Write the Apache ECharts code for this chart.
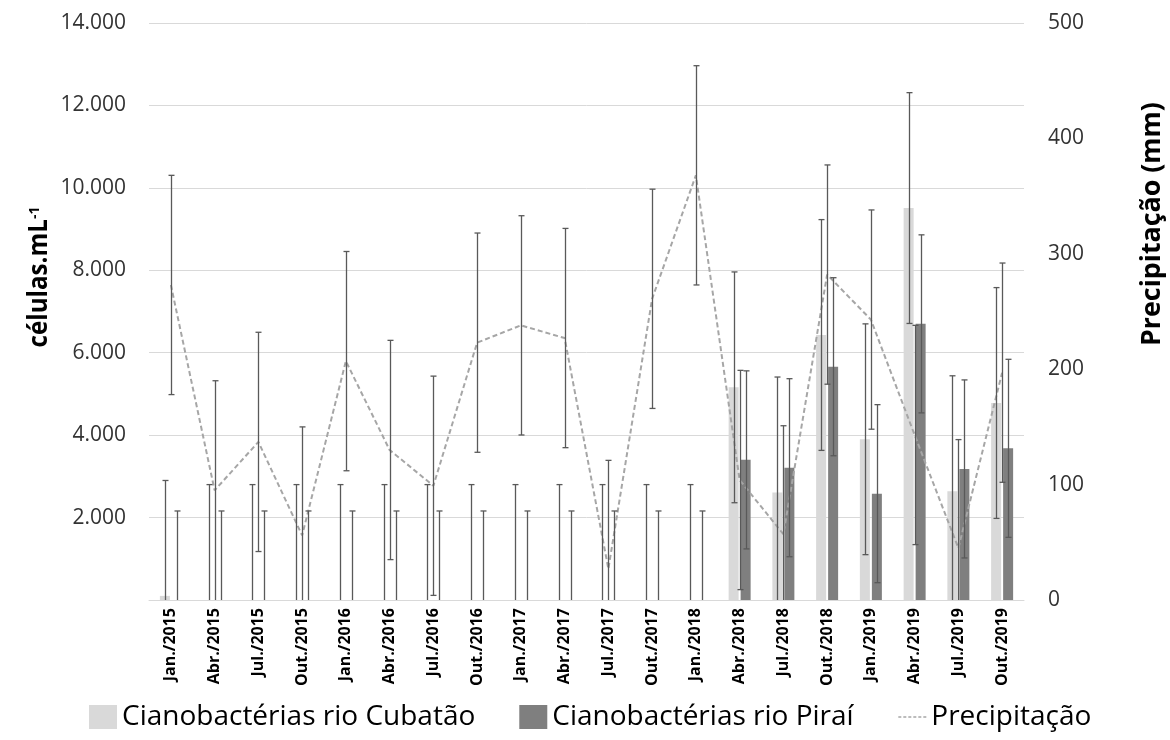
<!DOCTYPE html>
<html><head><meta charset="utf-8">
<script src="https://cdn.jsdelivr.net/npm/echarts@6/dist/echarts.min.js"></script>
<style>html,body{margin:0;padding:0;background:#fff}#c{width:1170px;height:740px}</style>
</head><body><div id="c"></div>
<script>
const categories = ['Jan./2015','Abr./2015','Jul./2015','Out./2015','Jan./2016','Abr./2016','Jul./2016','Out./2016','Jan./2017','Abr./2017','Jul./2017','Out./2017','Jan./2018','Abr./2018','Jul./2018','Out./2018','Jan./2019','Abr./2019','Jul./2019','Out./2019'];
const cubatao    = [100,0,0,0,0,0,0,0,0,0,0,0,0,5160,2610,6430,3900,9510,2640,4780];
const cubataoErr = [2800,2800,2800,2800,2800,2800,2800,2800,2800,2800,2800,2800,2800,2800,2800,2800,2800,2800,2800,2800];
const pirai      = [0,0,0,0,0,0,0,0,0,0,0,0,0,3400,3210,5660,2580,6700,3180,3680];
const piraiErr   = [2160,2160,2160,2160,2160,2160,2160,2160,2160,2160,2160,2160,2160,2160,2160,2160,2160,2160,2160,2160];
const precip     = [273,95,137,56,207,130,99,223,238,227,27,261,368,104,57,282,243,143,45,197];
const precipErr  = [95,95,95,94,95,95,95,95,95,95,94,95,95,95,94,95,95,95,94,95];
const leftAxis = {min:0, max:14000, interval:2000};
const rightAxis = {min:0, max:500, interval:100};

function fmtThousands(v){ return v === 0 ? '' : String(v).replace(/\B(?=(\d{3})+(?!\d))/g,'.'); }

function errSeries(name, values, errs, offset, yAxisIndex){
  return {
    type:'custom', name:name, yAxisIndex:yAxisIndex, silent:true, z:6, clip:true,
    data: values.map((v,i)=>[i, v, errs[i]]),
    encode:{x:0, y:1},
    renderItem:function(params, api){
      const i = api.value(0), v = api.value(1), e = api.value(2);
      const hi = api.coord([i, v + e]);
      const lo = api.coord([i, Math.max(0, v - e)]);
      const x = Math.round(hi[0] + offset) + 0.5;
      const st = {stroke:'#595959', lineWidth:1.3};
      const cap = 3;
      const ch = [
        {type:'line', shape:{x1:x, y1:hi[1], x2:x, y2:lo[1]}, style:st},
        {type:'line', shape:{x1:x-cap, y1:hi[1], x2:x+cap, y2:hi[1]}, style:st}
      ];
      if (v - e > 0) ch.push({type:'line', shape:{x1:x-cap, y1:lo[1], x2:x+cap, y2:lo[1]}, style:st});
      return {type:'group', children:ch};
    }
  };
}

const chart = echarts.init(document.getElementById('c'), null, {renderer:'canvas'});
chart.setOption({
  animation:false,
  backgroundColor:'#fff',
  textStyle:{fontFamily:'Open Sans'},
  grid:{left:149, top:23, width:875, height:577},
  legend:{
    left:89, top:703, padding:0, itemWidth:28, itemHeight:24, itemGap:44,
    textStyle:{fontFamily:'Open Sans', fontSize:28, color:'#000'},
    data:[
      {name:'Cianobactérias rio Cubatão', icon:'rect'},
      {name:'Cianobactérias rio Piraí', icon:'rect'},
      {name:'Precipitação', itemStyle:{opacity:0}, lineStyle:{color:'#a6a6a6', width:1.3, type:[3,2]}}
    ]
  },
  xAxis:{
    type:'category', data:categories, boundaryGap:true,
    axisTick:{show:false},
    axisLine:{lineStyle:{color:'#d9d9d9', width:1}},
    axisLabel:{rotate:90, interval:0, fontWeight:'bold', fontSize:16, color:'#000', margin:8, padding:[0,0,10,0]}
  },
  yAxis:[
    {type:'value', min:leftAxis.min, max:leftAxis.max, interval:leftAxis.interval,
     axisLine:{show:false}, axisTick:{show:false},
     splitLine:{lineStyle:{color:'#d9d9d9', width:1}},
     axisLabel:{formatter:fmtThousands, fontSize:21, color:'#333', margin:23}},
    {type:'value', min:rightAxis.min, max:rightAxis.max, interval:rightAxis.interval,
     axisLine:{show:false}, axisTick:{show:false}, splitLine:{show:false},
     axisLabel:{fontSize:21, color:'#333', margin:24}}
  ],
  graphic:[
    {type:'text', x:40, y:277, rotation:Math.PI/2, scaleX:0.93,
     style:{text:'{a|células.mL}{s|-1}', align:'center', verticalAlign:'middle',
       rich:{a:{fontFamily:'Open Sans', fontWeight:'bold', fontSize:26, fill:'#000'},
             s:{fontFamily:'Open Sans', fontWeight:'bold', fontSize:15, fill:'#000', verticalAlign:'top'}}}},
    {type:'text', x:1153, y:224, rotation:Math.PI/2, scaleX:1.03,
     style:{text:'Precipitação (mm)', align:'center', verticalAlign:'middle',
       fontFamily:'Open Sans', fontWeight:'bold', fontSize:26, fill:'#000'}}
  ],
  series:[
    {name:'Cianobactérias rio Cubatão', type:'bar', data:cubatao, barWidth:10, barGap:'20%', itemStyle:{color:'#d9d9d9'}, z:2},
    {name:'Cianobactérias rio Piraí', type:'bar', data:pirai, barWidth:10, barGap:'20%', itemStyle:{color:'#7f7f7f'}, z:2},
    {name:'Precipitação', type:'line', yAxisIndex:1, data:precip, symbol:'none', showSymbol:false,
     lineStyle:{color:'#a6a6a6', width:2, type:[5,3]}, itemStyle:{color:'#a6a6a6'}, z:4},
    errSeries('errCub', cubatao, cubataoErr, -6, 0),
    errSeries('errPir', pirai, piraiErr, 6, 0),
    errSeries('errPrec', precip, precipErr, 0, 1)
  ]
});
</script></body></html>
